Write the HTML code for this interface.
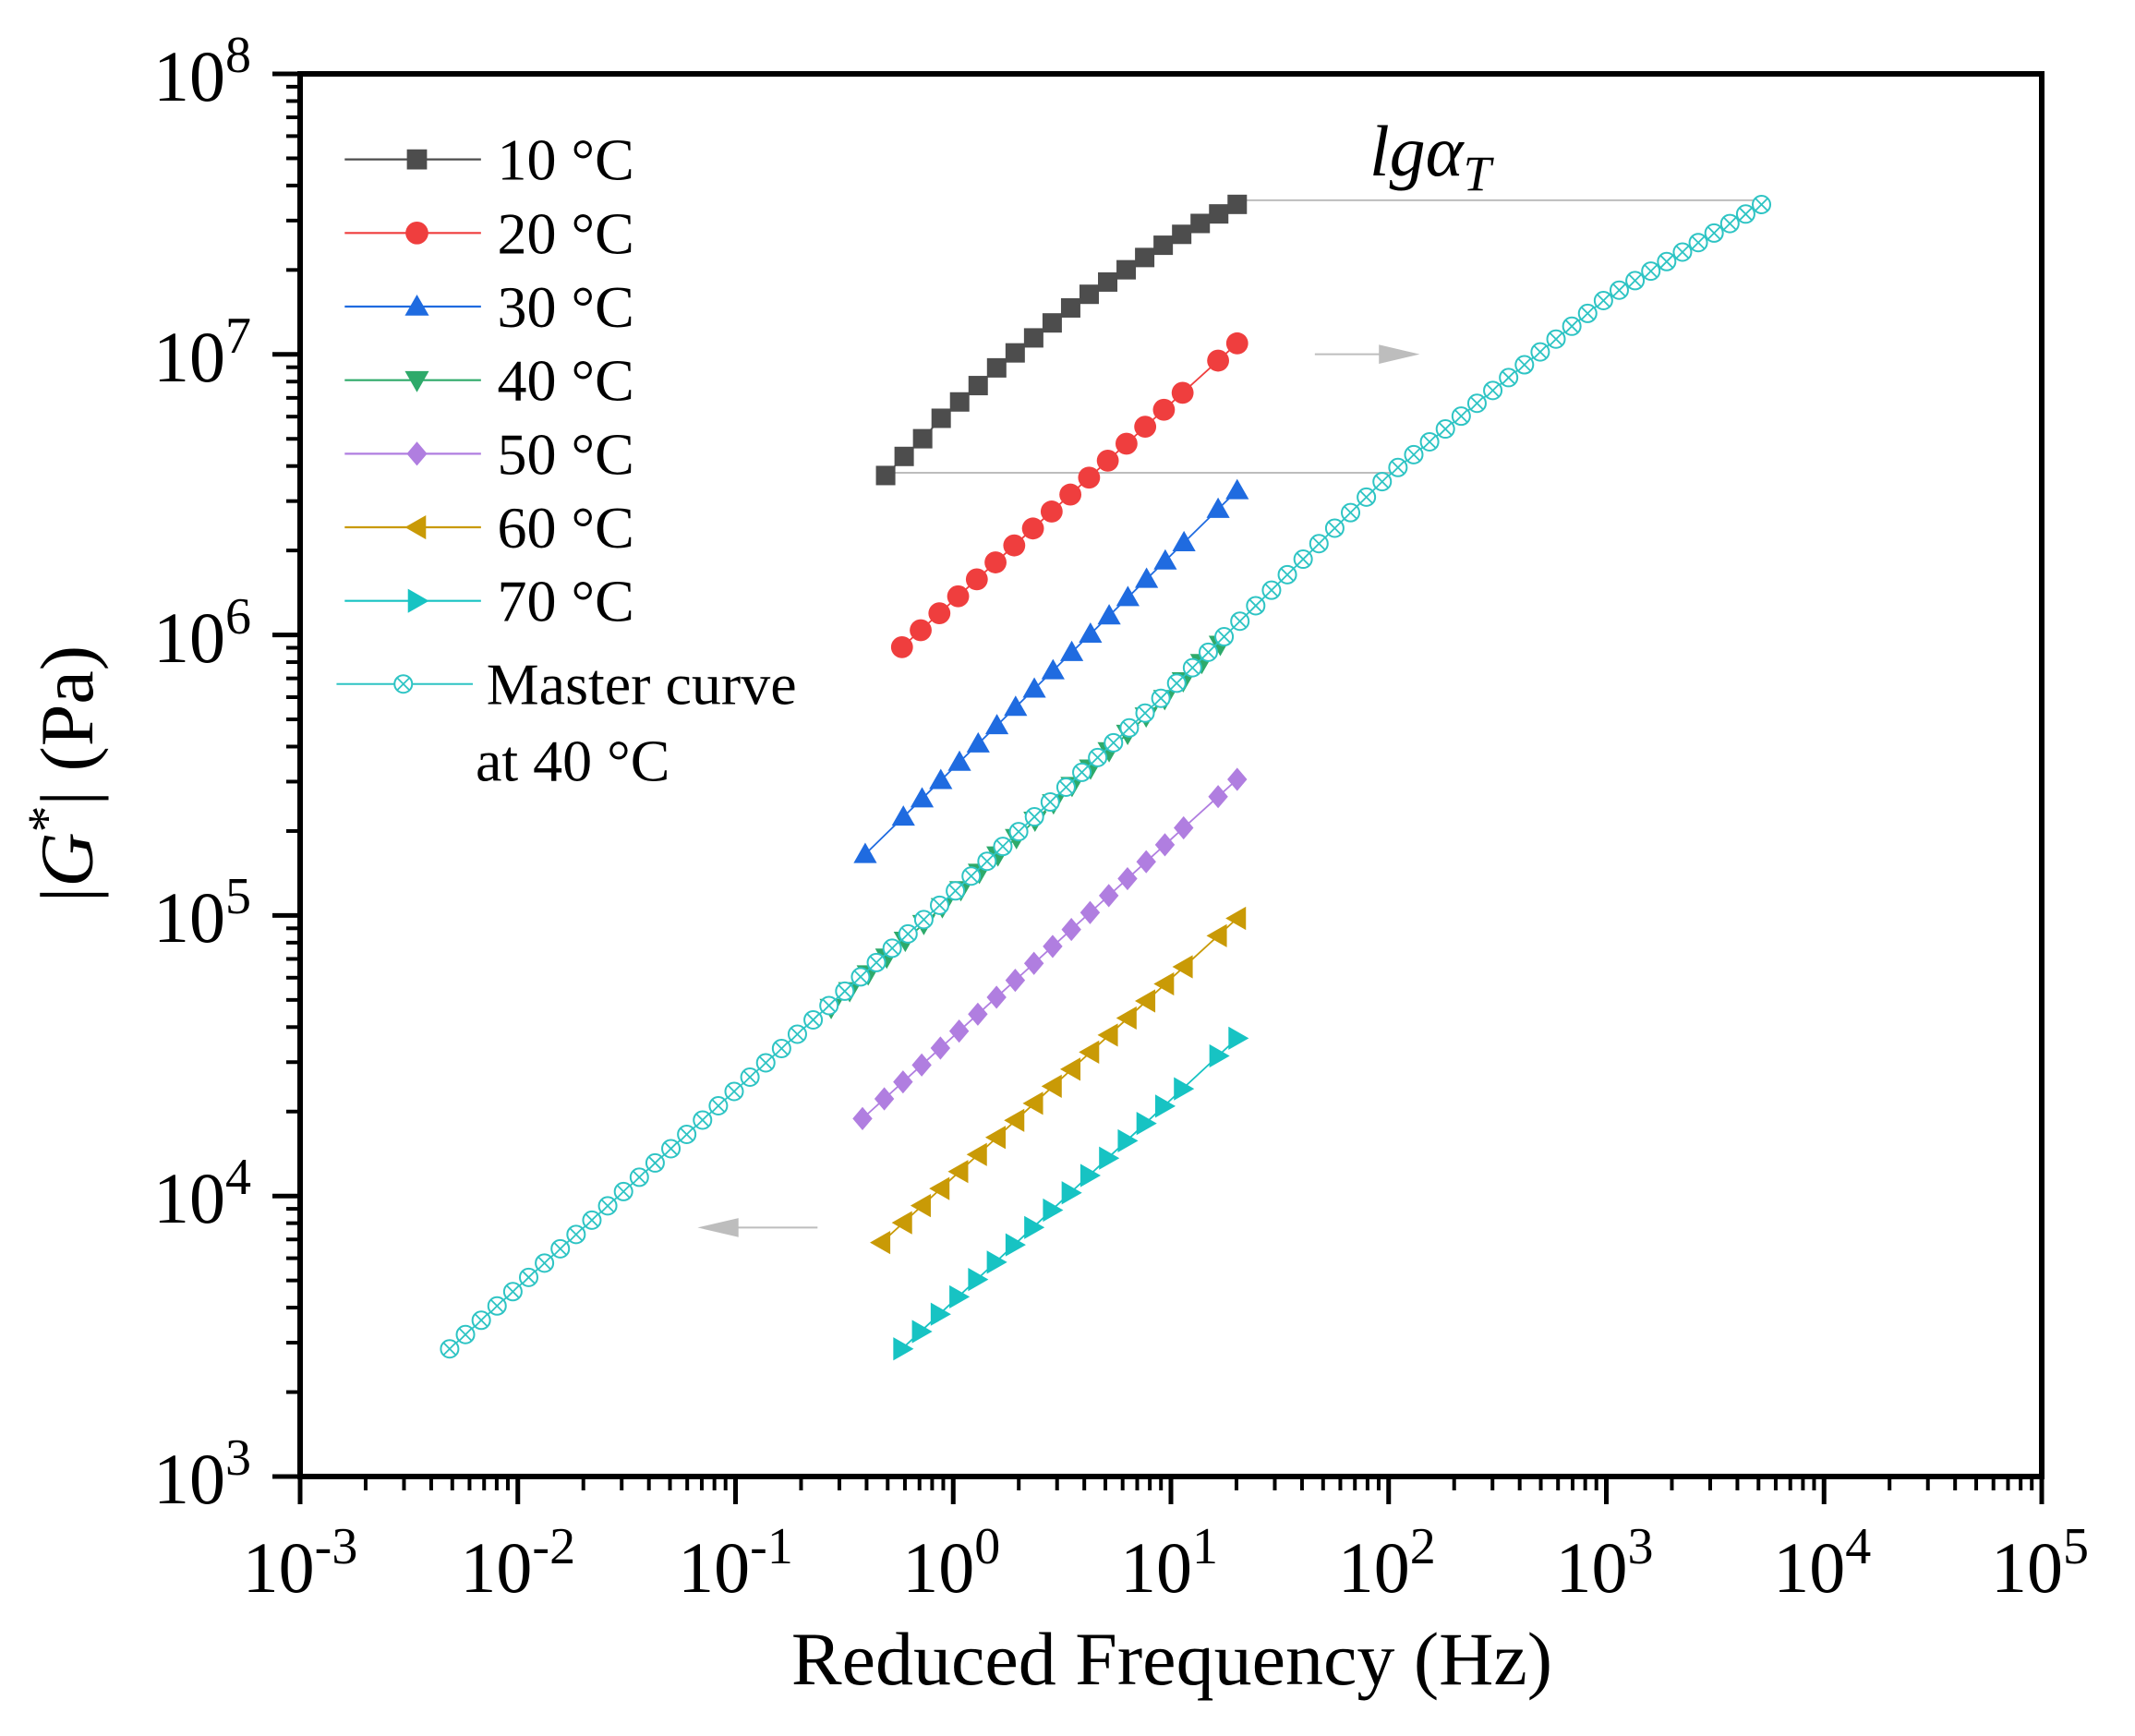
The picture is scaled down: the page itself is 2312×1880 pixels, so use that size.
<!DOCTYPE html>
<html><head><meta charset="utf-8"><style>
html,body{margin:0;padding:0;background:#fff}
svg{display:block}
text{font-family:"Liberation Serif",serif;fill:#000}
</style></head><body>
<svg id="s" xmlns="http://www.w3.org/2000/svg" width="2312" height="1880" viewBox="0 0 2312 1880">
<rect width="2312" height="1880" fill="#fff"/>
<g id="plot"></g>
<rect x="325" y="80" width="1886" height="1519" fill="none" stroke="#000" stroke-width="6"/>
<g id="ticks"></g>
<g font-size="78" text-anchor="end">
<text x="272" y="109">10<tspan font-size="56" dy="-31">8</tspan></text>
<text x="272" y="413">10<tspan font-size="56" dy="-31">7</tspan></text>
<text x="272" y="717">10<tspan font-size="56" dy="-31">6</tspan></text>
<text x="272" y="1020">10<tspan font-size="56" dy="-31">5</tspan></text>
<text x="272" y="1324">10<tspan font-size="56" dy="-31">4</tspan></text>
<text x="272" y="1628">10<tspan font-size="56" dy="-31">3</tspan></text>
</g>
<g font-size="78" text-anchor="middle" id="xl"></g>
<text x="1269" y="1824" font-size="82" text-anchor="middle">Reduced Frequency (Hz)</text>
<text transform="translate(100,838) rotate(-90)" font-size="82" text-anchor="middle">|<tspan font-style="italic">G</tspan><tspan font-size="58" dy="-30">*</tspan><tspan dy="30">| (Pa)</tspan></text>
<text x="1483" y="190" font-size="78" font-style="italic">lgα<tspan font-size="54" dy="16">T</tspan></text>
<g id="leg" font-size="64"></g>
</svg>
<script>
const NS="http://www.w3.org/2000/svg";
const K=1.4755;
function el(p,t,a){const e=document.createElementNS(NS,t);for(const k in a)e.setAttribute(k,a[k]);p.appendChild(e);return e;}
const plot=document.getElementById('plot'),ticks=document.getElementById('ticks');
const X=l=>325+(l+3)*235.75, Y=l=>1599-(l-3)*303.8;
for(let d=-3;d<=5;d++){el(ticks,'line',{x1:X(d),x2:X(d),y1:1599,y2:1629,stroke:'#000','stroke-width':5});
 if(d<5)for(let m=2;m<10;m++){const x=X(d+Math.log10(m));el(ticks,'line',{x1:x,x2:x,y1:1599,y2:1614,stroke:'#000','stroke-width':4});}}
for(let d=3;d<=8;d++){el(ticks,'line',{x1:295,x2:325,y1:Y(d),y2:Y(d),stroke:'#000','stroke-width':5});
 if(d<8)for(let m=2;m<10;m++){const y=Y(d+Math.log10(m));el(ticks,'line',{x1:310,x2:325,y1:y,y2:y,stroke:'#000','stroke-width':4});}}
const xl=document.getElementById('xl');
for(let d=-3;d<=5;d++){const t=el(xl,'text',{x:X(d)+ (d<0?0:-2),y:1724});t.innerHTML='10<tspan font-size="56" dy="-31">'+d+'</tspan>';}
function marker(p,type,x,y,c,s){s=s||1.4;const r=9*s;
 switch(type){
 case 'sq':el(p,'rect',{x:x-7.5*s,y:y-7.5*s,width:15*s,height:15*s,fill:c});break;
 case 'ci':el(p,'circle',{cx:x,cy:y,r:8.5*s,fill:c});break;
 case 'up':el(p,'polygon',{points:`${x},${y-r} ${x-r},${y+r*0.75} ${x+r},${y+r*0.75}`,fill:c});break;
 case 'dn':el(p,'polygon',{points:`${x},${y+r} ${x-r},${y-r*0.75} ${x+r},${y-r*0.75}`,fill:c});break;
 case 'di':el(p,'polygon',{points:`${x},${y-r} ${x+r*0.85},${y} ${x},${y+r} ${x-r*0.85},${y}`,fill:c});break;
 case 'le':el(p,'polygon',{points:`${x-r},${y} ${x+r*0.75},${y-r} ${x+r*0.75},${y+r}`,fill:c});break;
 case 'ri':el(p,'polygon',{points:`${x+r},${y} ${x-r*0.75},${y-r} ${x-r*0.75},${y+r}`,fill:c});break;
 case 'mc':el(p,'circle',{cx:x,cy:y,r:9.5,fill:'#fff',stroke:c,'stroke-width':2});
   el(p,'line',{x1:x-6.5,y1:y-6.5,x2:x+6.5,y2:y+6.5,stroke:c,'stroke-width':1.8});
   el(p,'line',{x1:x-6.5,y1:y+6.5,x2:x+6.5,y2:y-6.5,stroke:c,'stroke-width':1.8});break;}}
function series(pts,type,c){el(plot,'polyline',{points:pts.map(p=>p.join(',')).join(' '),fill:'none',stroke:c,'stroke-width':1.8});
 pts.forEach(p=>marker(plot,type,p[0],p[1],c));}
const g='#bdbdbd';
el(plot,'line',{x1:908*K,y1:147*K,x2:1293*K,y2:147*K,stroke:g,'stroke-width':2});
el(plot,'line',{x1:650*K,y1:347*K,x2:1030*K,y2:347*K,stroke:g,'stroke-width':2});
el(plot,'line',{x1:965*K,y1:260*K,x2:1022*K,y2:260*K,stroke:g,'stroke-width':2});
el(plot,'polygon',{points:`${1042*K},${260*K} ${1012*K},${253*K} ${1012*K},${267*K}`,fill:g});
el(plot,'line',{x1:600*K,y1:901*K,x2:532*K,y2:901*K,stroke:g,'stroke-width':2});
el(plot,'polygon',{points:`${512*K},${901*K} ${542*K},${894*K} ${542*K},${908*K}`,fill:g});
const mk=[[330,990],[540,800],[700,655],[860,505],[1020,348],[1180,218],[1293,150]];
function my(x){for(let i=0;i<mk.length-1;i++){const a=mk[i],b=mk[i+1];if(x<=b[0])return a[1]+(b[1]-a[1])*(x-a[0])/(b[0]-a[0]);}return 150;}
const gp=[];for(let x=610;x<=908;x+=13.6)gp.push([x*K,(my(x)+3)*K]);
series(gp,'dn','#2eaa6a');
const mp=[];for(let x=330;x<=1293.1;x+=11.6)mp.push([x*K,my(x)*K]);
el(plot,'polyline',{points:mp.map(p=>p.join(',')).join(' '),fill:'none',stroke:'#2ec4c4','stroke-width':1.8});
mp.forEach(p=>marker(plot,'mc',p[0],p[1],'#2ec4c4'));
const y10=[349,335,322,307,295,283,270,259,248,237,226,216,207,198,189,180,172,164,157,150];
series(y10.map((y,i)=>[(650+i*13.58)*K,y*K]),'sq','#4d4d4d');
function lin(xs,x0,y0,x1,y1){return xs.map(x=>[x*K,(y0+(y1-y0)*(x-x0)/(x1-x0))*K]);}
function grid(start,first){const a=[];if(first)a.push(first);for(let x=start;x<=869;x+=13.73)a.push(x);a.push(894,908);return a;}
series(lin(grid(662),662,475,908,252),'ci','#ef3e3e');
series(lin(grid(663,635),635,627,908,360),'up','#1f6be0');
series(lin(grid(649,633),633,821,908,572),'di','#b07ee0');
series(lin(grid(663,647),647,912,908,674),'le','#c99a06');
series(lin(grid(662),662,990,908,762),'ri','#17c3c3');
const leg=document.getElementById('leg');
const L=[['10 °C','sq','#4d4d4d'],['20 °C','ci','#ef3e3e'],['30 °C','up','#1f6be0'],['40 °C','dn','#2eaa6a'],['50 °C','di','#b07ee0'],['60 °C','le','#c99a06'],['70 °C','ri','#17c3c3']];
L.forEach((l,i)=>{const y=(117+i*54)*K;
 el(leg,'line',{x1:253*K,x2:353*K,y1:y,y2:y,stroke:l[2],'stroke-width':2.2});
 marker(leg,l[1],306*K,y,l[2],1.45);
 const t=el(leg,'text',{x:365*K,y:y+22});t.textContent=l[0];});
const ym=502*K;
el(leg,'line',{x1:247*K,x2:347*K,y1:ym,y2:ym,stroke:'#2ec4c4','stroke-width':2});
marker(leg,'mc',296*K,ym,'#2ec4c4');
let t=el(leg,'text',{x:357*K,y:ym+22});t.textContent='Master curve';
t=el(leg,'text',{x:349*K,y:558*K+22});t.textContent='at 40 °C';
</script>
</body></html>
